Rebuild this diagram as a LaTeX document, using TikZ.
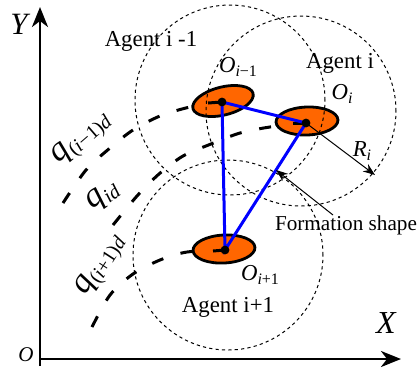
\documentclass[tikz,border=0pt]{standalone}
\usepackage{fontspec}
\setmainfont{Liberation Serif}
\usepackage{tikz}
\usetikzlibrary{arrows.meta,positioning,calc,shapes.geometric}
\definecolor{bodyfill}{HTML}{FF6600}
\newcommand{\lowidx}[2][8]{\raisebox{-0.35ex}{\fontsize{#1}{#1}\selectfont #2}}

\begin{document}
\begin{tikzpicture}[x=0.5pt, y=-0.5pt,
  axis/.style={line width=1.4pt, -{Stealth[length=10pt, width=8pt, inset=3pt]}},
  sensing/.style={dash pattern=on 1.6pt off 1.6pt, line width=0.5pt},
  track/.style={line width=1.5pt, dash pattern=on 6pt off 9pt},
  body/.style={ellipse, draw, line width=1.4pt, fill=bodyfill, minimum width=31pt, minimum height=14pt, inner sep=0pt},
  link/.style={blue, line width=1.5pt},
  pointer/.style={line width=0.5pt, -{Stealth[length=6pt, width=4.5pt]}},
  txt/.style={font=\fontsize{11.4}{12}\selectfont, inner sep=0pt},
  qtxt/.style={font=\fontsize{17}{17}\selectfont, inner sep=0pt}
]
  \useasboundingbox (0,0) rectangle (418,372);

  % centres
  \coordinate (Oim) at (222,102);
  \coordinate (Oi)  at (306,123);
  \coordinate (Oip) at (225,250);
  \coordinate (origin) at (40,359);

  % axes
  \draw[axis] (40,366) -- (40,7);
  \draw[axis] (origin) -- (401,359);

  % desired tracks
  \draw[track] plot[smooth] coordinates {(63,203) (86,170) (110,148) (133,130) (160,116) (190,107) (Oim)};
  \draw[track] plot[smooth] coordinates {(113,225) (137,196) (159,174) (183,156) (211,144) (240,133) (270,127) (Oi)};
  \draw[track] plot[smooth] coordinates {(92,327) (110,295) (133,274) (160,260) (187,252) (Oip)};

  % agents
  \node[body, rotate=14] (bodyim) at (223,101) {};
  \node[body, rotate=2] (bodyi) at (307,121) {};
  \node[body, rotate=3] (bodyip) at (224,249) {};
  \draw[line width=1.5pt] (208,103) -- (Oim);
  \draw[line width=1.5pt] (293,123) -- (Oi);
  \draw[line width=1.5pt] (213,251) -- (Oip);

  % sensing ranges
  \draw[sensing] (230,100) circle[radius=47.5pt];
  \draw[sensing] (301,111) coordinate (Ci) circle[radius=47.5pt];
  \draw[sensing] (228,255) circle[radius=47.5pt];

  % formation shape
  \draw[link] (Oim) -- (Oi) -- (Oip) -- cycle;
  \foreach \c in {Oim,Oi,Oip}
    \fill (\c) circle[radius=2.2pt];

  % radius
  \coordinate (rimi) at (375,175);
  \draw[pointer] (Oi) -- (rimi);
  \node[txt] (Ri) at (362,151) {\textit{R}\lowidx{\textit{i}}};

  \node[font=\fontsize{10.6}{11}\selectfont, inner sep=0pt] (formation) at (346,225) {Formation shape};
  \coordinate (tipf) at ($(Oi)!0.37!(Oip)$);
  \draw[pointer] ([xshift=-6.5pt]formation.north) -- (tipf);

  % labels
  \node[txt] (agentim) at (151,41) {Agent i -1};
  \node[txt] (agenti) at (340,63) {Agent i};
  \node[txt] (agentip) at (228,307) {Agent i+1};
  \node[txt] (labim) at (238,67) {\textit{O}\lowidx{\textit{i}−1}};
  \node[txt] (labi) at (342,94) {\textit{O}\lowidx{\textit{i}}};
  \node[txt] (labip) at (260,275) {\textit{O}\lowidx{\textit{i}+1}};

  \node[qtxt, rotate=41] (qim) at (82,139) {\textit{q}\lowidx[10]{(\textit{i}−1)\textit{d}}};
  \node[qtxt, rotate=37] (qi) at (103,196) {\textit{q}\lowidx[10]{\textit{id}}};
  \node[qtxt, rotate=57] (qip) at (101,266) {\textit{q}\lowidx[10]{(\textit{i}+1)\textit{d}}};

  \node[font=\fontsize{16}{16}\selectfont\itshape, inner sep=0pt] (xlab) at (386,323) {X};
  \node[font=\fontsize{15.5}{16}\selectfont\itshape, inner sep=0pt] (ylab) at (19,24) {Y};
  \node[font=\fontsize{10.5}{11}\selectfont\itshape, inner sep=0pt] (olab) at (26,355) {O};
\end{tikzpicture}
\end{document}
